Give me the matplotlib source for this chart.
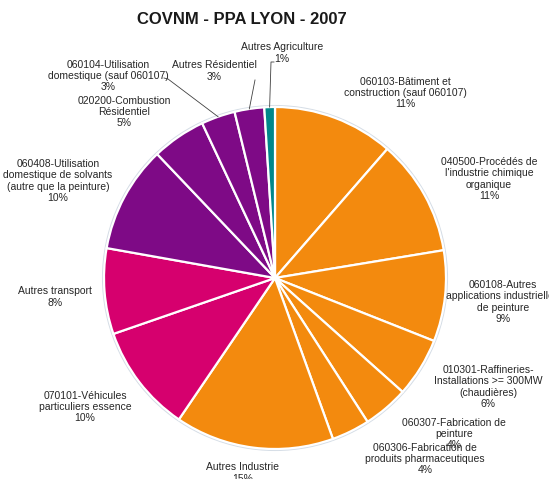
import matplotlib
matplotlib.use("Agg")
import matplotlib.pyplot as plt
from matplotlib.patches import Circle
import numpy as np

plt.rcParams['font.family'] = ['Liberation Sans', 'DejaVu Sans']

# ---- data ----
categories = [
    "060103-Bâtiment et\nconstruction (sauf 060107)",
    "040500-Procédés de\nl'industrie chimique\norganique",
    "060108-Autres\napplications industrielles\nde peinture",
    "010301-Raffineries-\nInstallations >= 300MW\n(chaudières)",
    "060307-Fabrication de\npeinture",
    "060306-Fabrication de\nproduits pharmaceutiques",
    "Autres Industrie",
    "070101-Véhicules\nparticuliers essence",
    "Autres transport",
    "060408-Utilisation\ndomestique de solvants\n(autre que la peinture)",
    "020200-Combustion\nRésidentiel",
    "060104-Utilisation\ndomestique (sauf 060107)",
    "Autres Résidentiel",
    "Autres Agriculture",
]
values = [11.4, 11.0, 8.6, 5.6, 4.3, 3.6, 15.0, 10.2, 8.1, 10.1, 5.1, 3.2, 2.8, 1.0]
sectors = ["ind", "ind", "ind", "ind", "ind", "ind", "ind",
           "tra", "tra", "res", "res", "res", "res", "agr"]
title = "COVNM - PPA LYON - 2007"

# ---- style / layout ----
sector_colors = {"ind": "#F38A0E", "tra": "#D6006E", "res": "#7E0A86", "agr": "#00878A"}
W, H = 549, 479
center = (275, H - 278)
radius = 171
# label centres in pixel coords (x, y from top)
label_pos = [(405, 93), (489, 179), (503, 302), (488, 387), (454, 434),
             (425, 459), (243, 473), (85, 407), (55, 297), (58, 181),
             (124, 112), (108, 76), (214, 71), (282, 53)]

fig = plt.figure(figsize=(W / 100, H / 100), dpi=100)
ax = fig.add_axes([0, 0, 1, 1])

# subtle outline around the pie
ax.add_patch(Circle(center, radius + 1.2, facecolor='none', edgecolor='#d5dde6', lw=1.2, zorder=0))

colors = [sector_colors[s] for s in sectors]
wedges, _ = ax.pie(values, colors=colors, startangle=90, counterclock=False,
                   center=center, radius=radius, frame=True,
                   wedgeprops=dict(edgecolor='white', linewidth=1.6))
ax.set_xlim(0, W)
ax.set_ylim(0, H)
ax.set_aspect('equal')
ax.axis('off')

for cat, v, (lx, ly) in zip(categories, values, label_pos):
    ax.text(lx, H - ly, f"{cat}\n{round(v)}%", ha='center', va='center',
            fontsize=7.5, color='#262626', linespacing=1.17)

# leader lines
total = sum(values)
cum = np.cumsum([0] + values)
def edge_point(i, r=radius):
    mid = (cum[i] + cum[i + 1]) / 2 / total * 360
    a = np.deg2rad(90 - mid)
    return center[0] + r * np.cos(a), center[1] + r * np.sin(a)

leaders = {11: (168, 79), 12: (255, 80), 13: (271, 62)}
for i, (sx, sy) in leaders.items():
    ex, ey = edge_point(i)
    if i == 13:
        ax.plot([sx + 3, sx, ex], [H - sy, H - sy, ey], color='#404040', lw=0.6)
    elif i == 11:
        ax.plot([sx - 4, sx, ex], [H - sy + 1, H - sy, ey], color='#404040', lw=0.6)
    else:
        ax.plot([sx, ex], [H - sy, ey], color='#404040', lw=0.6)

fig.text(242 / W, 1 - 20 / H, title, ha='center', va='center',
         fontsize=12, fontweight='bold', color='#1a1a1a')

fig.savefig("out.png", dpi=100, facecolor='white')
